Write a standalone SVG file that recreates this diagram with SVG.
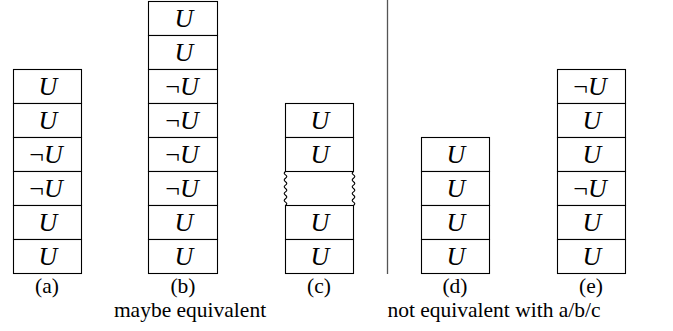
<svg xmlns="http://www.w3.org/2000/svg" width="673" height="331" viewBox="0 0 673 331">
<style>
.cell{fill:#fff;stroke:#000;stroke-width:1.1}
.ln{stroke:#000;stroke-width:1.1;fill:none}
.u{font-family:"Liberation Serif","Times New Roman",serif;font-style:italic;font-size:26px;text-anchor:middle;fill:#000}
.neg{font-style:normal}
.lbl{font-family:"Liberation Serif","Times New Roman",serif;font-size:21.5px;text-anchor:middle;fill:#000}
.div{stroke:#555;stroke-width:1.3}
</style>
<rect width="673" height="331" fill="#fff"/>
<defs>
<path id="wave" d="M0,0 q-2.6,1.7 0,3.4 q2.6,1.7 0,3.4 q-2.6,1.7 0,3.4 q2.6,1.7 0,3.4 q-2.6,1.7 0,3.4 q2.6,1.7 0,3.4 q-2.6,1.7 0,3.4 q2.6,1.7 0,3.4 q-2.6,1.7 0,3.4 q2.6,1.7 0,3.4" class="ln"/>
</defs>
<g id="stack-a">
<rect class="cell" x="13.5" y="69.5" width="68" height="34"/>
<rect class="cell" x="13.5" y="103.5" width="68" height="34"/>
<rect class="cell" x="13.5" y="137.5" width="68" height="34"/>
<rect class="cell" x="13.5" y="171.5" width="68" height="34"/>
<rect class="cell" x="13.5" y="205.5" width="68" height="34"/>
<rect class="cell" x="13.5" y="239.5" width="68" height="34"/>
<text class="u" x="48" y="94.5">U</text>
<text class="u" x="48" y="128.5">U</text>
<text class="u" x="46" y="162.5"><tspan class="neg">¬</tspan>U</text>
<text class="u" x="46" y="196.5"><tspan class="neg">¬</tspan>U</text>
<text class="u" x="48" y="230.5">U</text>
<text class="u" x="48" y="264.5">U</text>
<text class="lbl" x="47" y="293">(a)</text>
</g>
<g id="stack-b">
<rect class="cell" x="148.5" y="1.5" width="69" height="34"/>
<rect class="cell" x="148.5" y="35.5" width="69" height="34"/>
<rect class="cell" x="148.5" y="69.5" width="69" height="34"/>
<rect class="cell" x="148.5" y="103.5" width="69" height="34"/>
<rect class="cell" x="148.5" y="137.5" width="69" height="34"/>
<rect class="cell" x="148.5" y="171.5" width="69" height="34"/>
<rect class="cell" x="148.5" y="205.5" width="69" height="34"/>
<rect class="cell" x="148.5" y="239.5" width="69" height="34"/>
<text class="u" x="184" y="26.5">U</text>
<text class="u" x="184" y="60.5">U</text>
<text class="u" x="182" y="94.5"><tspan class="neg">¬</tspan>U</text>
<text class="u" x="182" y="128.5"><tspan class="neg">¬</tspan>U</text>
<text class="u" x="182" y="162.5"><tspan class="neg">¬</tspan>U</text>
<text class="u" x="182" y="196.5"><tspan class="neg">¬</tspan>U</text>
<text class="u" x="184" y="230.5">U</text>
<text class="u" x="184" y="264.5">U</text>
<text class="lbl" x="183" y="293">(b)</text>
</g>
<g id="stack-c">
<rect class="cell" x="285.5" y="103.5" width="68" height="34"/>
<rect class="cell" x="285.5" y="137.5" width="68" height="34"/>
<rect class="cell" x="285.5" y="205.5" width="68" height="34"/>
<rect class="cell" x="285.5" y="239.5" width="68" height="34"/>
<use href="#wave" x="285.5" y="171.5"/>
<use href="#wave" x="353.5" y="171.5"/>
<text class="u" x="320" y="128.5">U</text>
<text class="u" x="320" y="162.5">U</text>
<text class="u" x="320" y="230.5">U</text>
<text class="u" x="320" y="264.5">U</text>
<text class="lbl" x="319" y="293">(c)</text>
</g>
<g id="stack-d">
<rect class="cell" x="421.5" y="137.5" width="68" height="34"/>
<rect class="cell" x="421.5" y="171.5" width="68" height="34"/>
<rect class="cell" x="421.5" y="205.5" width="68" height="34"/>
<rect class="cell" x="421.5" y="239.5" width="68" height="34"/>
<text class="u" x="456" y="162.5">U</text>
<text class="u" x="456" y="196.5">U</text>
<text class="u" x="456" y="230.5">U</text>
<text class="u" x="456" y="264.5">U</text>
<text class="lbl" x="455" y="293">(d)</text>
</g>
<g id="stack-e">
<rect class="cell" x="557.5" y="69.5" width="68" height="34"/>
<rect class="cell" x="557.5" y="103.5" width="68" height="34"/>
<rect class="cell" x="557.5" y="137.5" width="68" height="34"/>
<rect class="cell" x="557.5" y="171.5" width="68" height="34"/>
<rect class="cell" x="557.5" y="205.5" width="68" height="34"/>
<rect class="cell" x="557.5" y="239.5" width="68" height="34"/>
<text class="u" x="590" y="94.5"><tspan class="neg">¬</tspan>U</text>
<text class="u" x="592" y="128.5">U</text>
<text class="u" x="592" y="162.5">U</text>
<text class="u" x="590" y="196.5"><tspan class="neg">¬</tspan>U</text>
<text class="u" x="592" y="230.5">U</text>
<text class="u" x="592" y="264.5">U</text>
<text class="lbl" x="591" y="293">(e)</text>
</g>
<g id="connectors">
<line class="div" x1="387.5" y1="0" x2="387.5" y2="274"/>
</g>
<g id="captions">
<text class="lbl" x="190" y="317">maybe equivalent</text>
<text class="lbl" x="494" y="317">not equivalent with a/b/c</text>
</g>
</svg>
